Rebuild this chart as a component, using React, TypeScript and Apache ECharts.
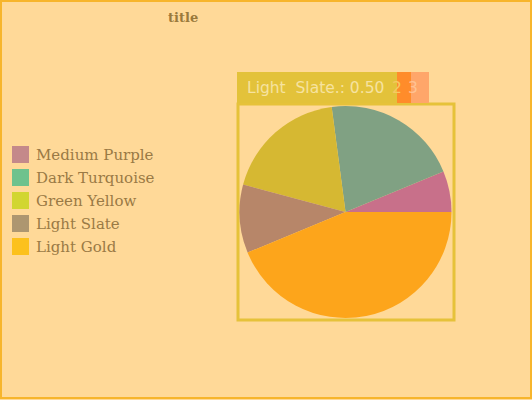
import React, { useEffect, useRef } from "react";
import * as echarts from "echarts";

const categories = ["Medium Purple", "Dark Turquoise", "Green Yellow", "Light Slate", "Light Gold"];
const values = [0.3, 1.0, 0.9, 0.5, 2.1];
const sliceColors = ["#c8708a", "#80a183", "#d6b832", "#b78669", "#fda51b"];
const legendColors = ["#c4898a", "#6ec28d", "#d2d630", "#ad9670", "#fcc11d"];
const overlayText = "Light  Slate.: 0.50";
const overlayExtras = ["2", "3"];

export default function App() {
  const ref = useRef<HTMLDivElement>(null);
  useEffect(() => {
    document.body.style.margin = "0";
    const chart = echarts.init(ref.current!, null, { renderer: "svg" });
    chart.setOption({
      animation: false,
      backgroundColor: "#ffd998",
      title: {
        text: "title",
        left: 163,
        top: 6,
        textStyle: { fontFamily: "'DejaVu Serif', serif", fontSize: 13, fontWeight: "bold", color: "#9a7a3c" },
      },
      legend: {
        orient: "vertical",
        left: 7,
        top: 141,
        itemWidth: 17,
        itemHeight: 17,
        itemGap: 6,
        icon: "rect",
        textStyle: { fontFamily: "'DejaVu Serif', serif", fontSize: 15, color: "#9a7a45", padding: [0, 0, 0, 2] },
        data: categories.map((c, i) => ({ name: c, itemStyle: { color: legendColors[i] } })),
      },
      graphic: [
        {
          type: "rect",
          shape: { x: 1, y: 1, width: 530, height: 397 },
          style: { fill: "none", stroke: "#f7b52c", lineWidth: 2 },
          z: 0,
        },
        {
          type: "rect",
          shape: { x: 238, y: 104, width: 216, height: 216 },
          style: { fill: "none", stroke: "#e6c23a", lineWidth: 3 },
          z: 1,
        },
        {
          type: "rect",
          shape: { x: 237, y: 72, width: 160, height: 31 },
          style: { fill: "#e3c23a" },
          z: 10,
        },
        {
          type: "text",
          x: 247,
          y: 88,
          style: { text: overlayText, fill: "#f6e2a0", font: "15.5px 'DejaVu Sans', sans-serif", verticalAlign: "middle" },
          z: 11,
        },
        {
          type: "rect",
          shape: { x: 397, y: 72, width: 14, height: 31 },
          style: { fill: "#ff8c2a" },
          z: 10,
        },
        {
          type: "rect",
          shape: { x: 411, y: 72, width: 18, height: 31 },
          style: { fill: "#ffa66a" },
          z: 10,
        },
        {
          type: "text",
          x: 397,
          y: 88,
          style: { text: overlayExtras[0], fill: "#f7c862", font: "15.5px 'DejaVu Sans', sans-serif", align: "center", verticalAlign: "middle" },
          z: 11,
        },
        {
          type: "text",
          x: 413,
          y: 88,
          style: { text: overlayExtras[1], fill: "#ffc292", font: "15.5px 'DejaVu Sans', sans-serif", align: "center", verticalAlign: "middle" },
          z: 11,
        },
      ],
      series: [
        {
          type: "pie",
          center: [345.5, 212],
          radius: 106,
          startAngle: 0,
          clockwise: false,
          label: { show: false },
          labelLine: { show: false },
          itemStyle: { borderWidth: 0 },
          emphasis: { disabled: true },
          data: categories.map((c, i) => ({ name: c, value: values[i], itemStyle: { color: sliceColors[i] } })),
        },
      ],
    });
    return () => chart.dispose();
  }, []);
  return <div ref={ref} style={{ width: 532, height: 400 }} />;
}
